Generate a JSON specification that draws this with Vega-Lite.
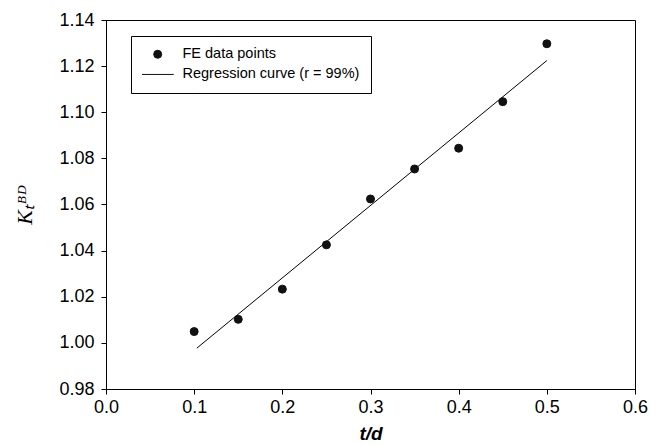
{
  "$schema": "https://vega.github.io/schema/vega-lite/v6.json",
  "width": 529,
  "height": 369,
  "autosize": {"type": "none"},
  "padding": {"left": 106, "top": 20, "right": 24, "bottom": 56},
  "background": "white",
  "config": {
    "view": {"stroke": "black", "strokeWidth": 1},
    "axis": {
      "grid": false,
      "domainColor": "black",
      "domainWidth": 1,
      "tickColor": "black",
      "tickWidth": 1,
      "tickSize": 5,
      "labelColor": "black",
      "labelFont": "Liberation Sans",
      "labelFontSize": 18,
      "titleColor": "black"
    }
  },
  "datasets": {
    "points": [
      {"td": 0.10, "k": 1.0049, "series": "FE data points"},
      {"td": 0.15, "k": 1.0102, "series": "FE data points"},
      {"td": 0.20, "k": 1.0233, "series": "FE data points"},
      {"td": 0.25, "k": 1.0425, "series": "FE data points"},
      {"td": 0.30, "k": 1.0624, "series": "FE data points"},
      {"td": 0.35, "k": 1.0754, "series": "FE data points"},
      {"td": 0.40, "k": 1.0844, "series": "FE data points"},
      {"td": 0.45, "k": 1.1046, "series": "FE data points"},
      {"td": 0.50, "k": 1.1297, "series": "FE data points"}
    ],
    "fit": [
      {"td": 0.103, "k": 0.9977},
      {"td": 0.500, "k": 1.1224}
    ]
  },
  "encoding": {
    "x": {
      "field": "td",
      "type": "quantitative",
      "scale": {"domain": [0, 0.6], "nice": false, "zero": false},
      "axis": {
        "values": [0, 0.1, 0.2, 0.3, 0.4, 0.5, 0.6],
        "format": ".1f",
        "labelPadding": 4,
        "labelFlush": false,
        "title": "t/d",
        "titleFont": "Liberation Sans",
        "titleFontSize": 19,
        "titleFontWeight": "bold",
        "titleFontStyle": "italic",
        "titlePadding": 8
      }
    },
    "y": {
      "field": "k",
      "type": "quantitative",
      "scale": {"domain": [0.98, 1.14], "nice": false, "zero": false},
      "axis": {
        "values": [0.98, 1.0, 1.02, 1.04, 1.06, 1.08, 1.1, 1.12, 1.14],
        "format": ".2f",
        "labelPadding": 7,
        "labelFlush": false,
        "title": "Kₜᴮᴰ",
        "titleFont": "Liberation Serif",
        "titleFontSize": 22,
        "titleFontWeight": "normal",
        "titleFontStyle": "italic",
        "titlePadding": 22
      }
    }
  },
  "layer": [
    {
      "data": {"name": "fit"},
      "mark": {"type": "line", "color": "black", "strokeWidth": 1}
    },
    {
      "data": {"name": "points"},
      "mark": {"type": "point", "filled": true, "fill": "#111111", "stroke": "#111111", "strokeWidth": 1, "opacity": 1},
      "encoding": {
        "shape": {
          "field": "series",
          "type": "nominal",
          "scale": {
            "domain": ["FE data points", "Regression curve (r = 99%)"],
            "range": ["circle", "stroke"]
          },
          "legend": {
            "title": null,
            "orient": "none",
            "legendX": 25,
            "legendY": 16,
            "padding": 11,
            "strokeColor": "black",
            "fillColor": "white",
            "labelFont": "Liberation Sans",
            "labelFontSize": 14.5,
            "labelColor": "black",
            "labelLimit": 400,
            "clipHeight": 14.5,
            "symbolOffset": -0.8,
            "labelOffset": 8.3,
            "rowPadding": 4.2,
            "symbolStrokeWidth": 1,
            "encode": {
              "symbols": {
                "fill": {"value": "#111111"},
                "stroke": {"value": "#111111"},
                "strokeWidth": {"value": 1},
                "opacity": {"value": 1}
              }
            }
          }
        },
        "size": {
          "field": "series",
          "type": "nominal",
          "scale": {
            "domain": ["FE data points", "Regression curve (r = 99%)"],
            "range": [64, 1024]
          }
        }
      }
    }
  ]
}
